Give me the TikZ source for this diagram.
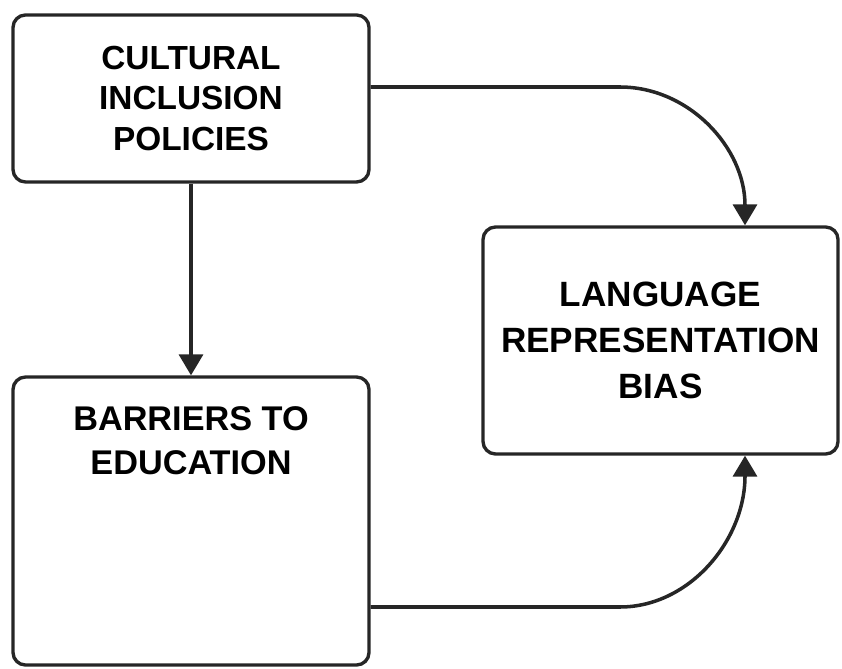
\documentclass[tikz,border=0pt]{standalone}
\usepackage{fontspec}
\setsansfont{Liberation Sans}
\usetikzlibrary{arrows.meta, calc}

\begin{document}
\begin{tikzpicture}[font=\sffamily\bfseries,
	box/.style={draw=black!85, line width=1.9pt, rounded corners=0.25cm, align=center, inner sep=0pt},
	link/.style={draw=black!85, line width=2pt, -{Triangle[length=0.42cm,width=0.48cm]}}]
	\def\W{7.12}
	\def\off{0.23}
	\def\bx{12.4}
	\def\tx{1.69}

	\useasboundingbox (0,0) rectangle (16.84,13.36);

	\node[box, minimum width=\W cm, minimum height=3.34cm, font=\sffamily\bfseries\fontsize{19}{22.8}\selectfont]	(policies) at (3.82,11.39)
		{CULTURAL\\INCLUSION\\POLICIES};
	\node[box, minimum width=\W cm, minimum height=5.76cm, font=\sffamily\bfseries\fontsize{19.5}{25}\selectfont]	(barriers) at (3.82,2.94)
		{\parbox[c][5.76cm][t]{7cm}{\centering\vspace*{0.6cm}BARRIERS TO\\EDUCATION}};
	\node[box, minimum width=7.10cm, minimum height=4.54cm, font=\sffamily\bfseries\fontsize{20}{26.2}\selectfont]	(bias) at (13.21,6.55)
		{LANGUAGE\\REPRESENTATION\\BIAS};

	\coordinate (topbend) at (\bx,11.62);
	\coordinate (lowbend) at (\bx,1.22);

	\draw[link]	(policies) -- (barriers);
	\draw[link]	($(policies.east)+(0,\off)$) -- (topbend)
		.. controls (13.78,11.62) and ($(bias.north)+(\tx,1.55)$) .. ($(bias.north)+(\tx,0)$);
	\draw[link]	(barriers.east |- lowbend) -- (lowbend)
		.. controls (13.78,1.22) and ($(bias.south)+(\tx,-1.7)$) .. ($(bias.south)+(\tx,0)$);
\end{tikzpicture}
\end{document}
